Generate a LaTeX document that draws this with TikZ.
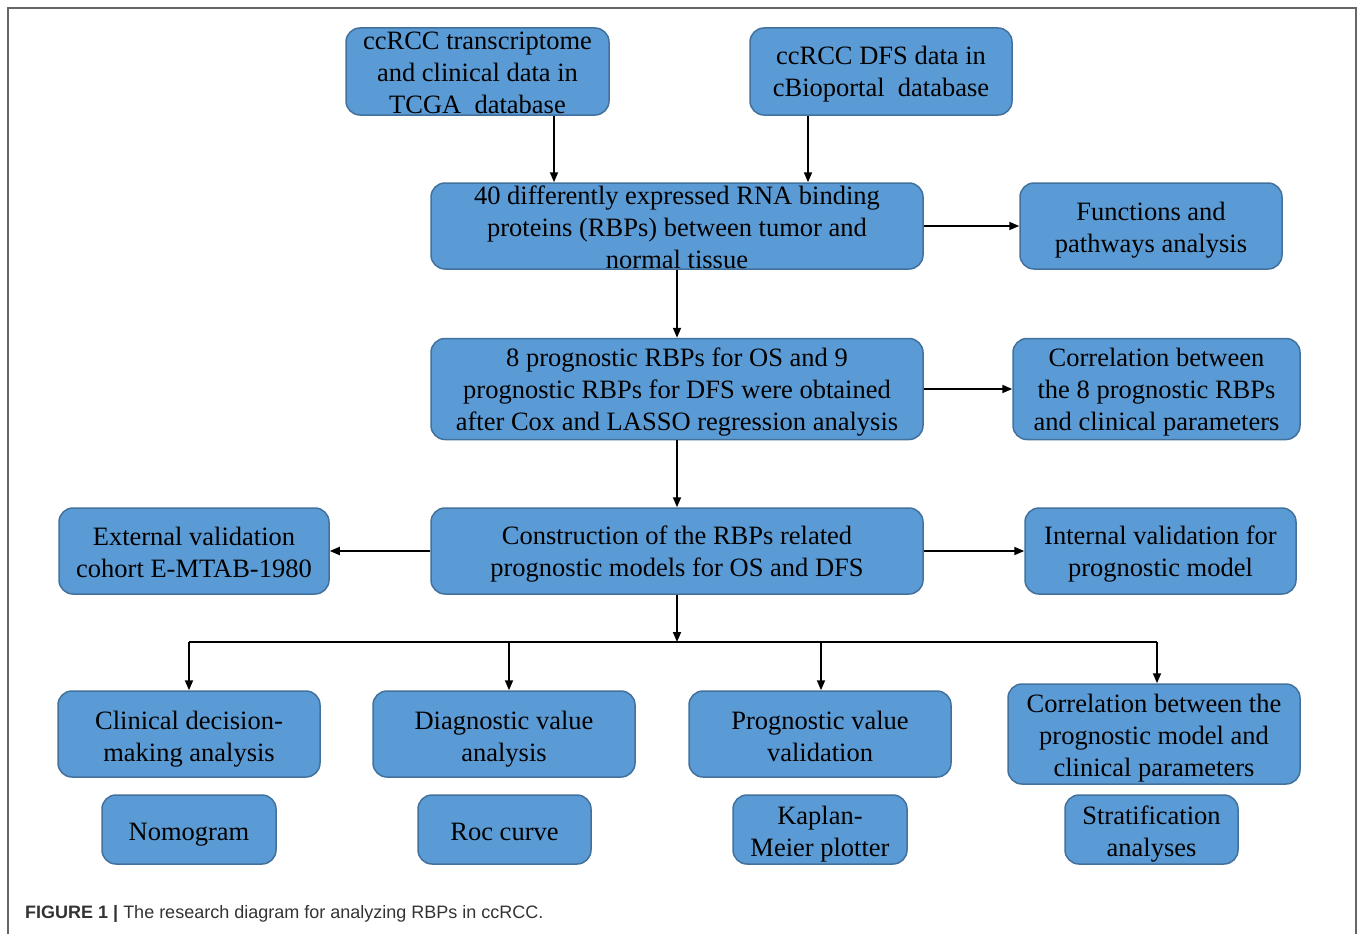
\documentclass[tikz,border=0pt]{standalone}
\usepackage{fontspec}
\setmainfont{Liberation Serif}
\newfontfamily\capfont{Liberation Sans}
\usetikzlibrary{arrows.meta}
\definecolor{boxfill}{HTML}{5B9BD5}
\definecolor{boxline}{HTML}{41719C}
\definecolor{framegray}{HTML}{666666}
\definecolor{capgray}{HTML}{333333}
\tikzset{
  box/.style={draw=boxline, fill=boxfill, line width=1.5pt, rounded corners=14pt, inner sep=0pt},
  txt/.style={align=center, font=\fontsize{26.5}{32}\selectfont, inner sep=0pt, text=black},
  arr/.style={line width=1.8pt, -{Triangle[length=10pt,width=8pt]}},
  ln/.style={line width=1.8pt},
}
\begin{document}
\begin{tikzpicture}[x=1pt,y=-1pt]
\useasboundingbox (0,0) rectangle (1358,934);
\draw[framegray, line width=1.5pt] (8,934) -- (8,8) -- (1356,8) -- (1356,934);

\node[box, minimum width=263, minimum height=87, label={[txt, yshift=-1pt]center:{ccRCC transcriptome\\and clinical data in\\TCGA\ \ database}}] (a) at (477.5,71.5) {};
\node[box, minimum width=262, minimum height=87, label={[txt, yshift=-3pt]center:{ccRCC DFS data in\\cBioportal\ \ database}}] (b) at (881,71.5) {};
\node[box, minimum width=492, minimum height=86, label={[txt, yshift=-1pt]center:{40 differently expressed RNA binding\\proteins (RBPs) between tumor and\\normal tissue}}] (c) at (677,226) {};
\node[box, minimum width=262, minimum height=86, label={[txt, yshift=-4pt]center:{Functions and\\pathways analysis}}] (d) at (1151,226) {};
\node[box, minimum width=492, minimum height=101, label={[txt, yshift=-3pt]center:{8 prognostic RBPs for OS and 9\\prognostic RBPs for DFS were obtained\\after Cox and LASSO regression analysis}}] (e) at (677,389) {};
\node[box, minimum width=287, minimum height=101, label={[txt, yshift=-3pt]center:{Correlation between\\the 8 prognostic RBPs\\and clinical parameters}}] (f) at (1156.5,389) {};
\node[box, minimum width=492, minimum height=86, label={[txt, yshift=-3pt]center:{Construction of the RBPs related\\prognostic models for OS and DFS}}] (g) at (677,551) {};
\node[box, minimum width=270, minimum height=86, label={[txt, yshift=-1pt]center:{External validation\\cohort E-MTAB-1980}}] (h) at (194,551) {};
\node[box, minimum width=271, minimum height=86, label={[txt, yshift=-3pt]center:{Internal validation for\\prognostic model}}] (i) at (1160.5,551) {};

\node[box, minimum width=262, minimum height=86, label={[txt, yshift=-5pt]center:{Clinical decision-\\making analysis}}] (j) at (189,734) {};
\node[box, minimum width=262, minimum height=86, label={[txt, yshift=-5pt]center:{Diagnostic value\\analysis}}] (k) at (504,734) {};
\node[box, minimum width=262, minimum height=86, label={[txt, yshift=-2pt]center:{Prognostic value\\validation}}] (l) at (820,734) {};
\node[box, minimum width=292, minimum height=100, label={[txt, yshift=-4pt]center:{Correlation between the\\prognostic model and\\clinical parameters}}] (m) at (1154,734) {};

\node[box, minimum width=174, minimum height=69, label={[txt, yshift=-5pt]center:{Nomogram}}] (n1) at (189,829.5) {};
\node[box, minimum width=173, minimum height=69, label={[txt, yshift=-2pt]center:{Roc curve}}] (n2) at (504.5,829.5) {};
\node[box, minimum width=174, minimum height=69, label={[txt, yshift=-5pt]center:{Kaplan-\\Meier plotter}}] (n3) at (820,829.5) {};
\node[box, minimum width=173, minimum height=69, label={[txt, yshift=-5pt]center:{Stratification\\analyses}}] (n4) at (1151.5,829.5) {};

\draw[arr] ([xshift=76.5pt]a.south) -- ([xshift=76.5pt]a.south |- c.north);
\draw[arr] ([xshift=-73pt]b.south) -- ([xshift=-73pt]b.south |- c.north);
\draw[arr] (c.east) -- (d.west);
\draw[arr] (c.south) -- (e.north);
\draw[arr] (e.east) -- (f.west);
\draw[arr] (e.south) -- (g.north);
\draw[arr] (g.west) -- (h.east);
\draw[arr] (g.east) -- (i.west);

\coordinate (busL) at (189,642);
\coordinate (busR) at (1157,642);
\draw[ln] (busL) -- (busR);
\draw[arr] (g.south) -- (g.south |- busL);
\draw[arr] (j.north |- busL) -- (j.north);
\draw[arr] ([xshift=5pt]k.north |- busL) -- ([xshift=5pt]k.north);
\draw[arr] ([xshift=1pt]l.north |- busL) -- ([xshift=1pt]l.north);
\draw[arr] ([xshift=3pt]m.north |- busL) -- ([xshift=3pt]m.north);

\node[anchor=west, inner sep=0pt, text=capgray, font=\capfont\fontsize{18}{20}\selectfont] (cap) at (25,914) {\textbf{FIGURE 1 |} The research diagram for analyzing RBPs in ccRCC.};
\end{tikzpicture}
\end{document}
